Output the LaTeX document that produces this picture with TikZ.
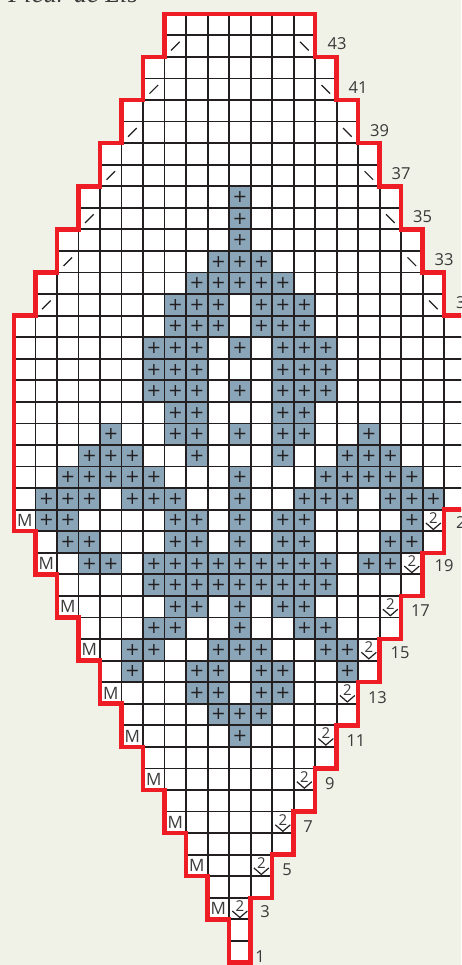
\documentclass[tikz,border=0pt]{standalone}
\usepackage{fontspec}
\setmainfont{Open Sans}
\newfontfamily\plusfont{DejaVu Sans}
\newfontfamily\titlefont{Liberation Serif}
\definecolor{paper}{HTML}{F0F1E7}
\definecolor{ink}{HTML}{231F20}
\definecolor{txt}{HTML}{3A3A3A}
\definecolor{steel}{HTML}{8AA5B8}
\definecolor{edge}{HTML}{EE1C25}
\tikzset{
  x=21.5pt,y=-21.56pt,
  cellbox/.style={draw=ink,line width=1.8pt,fill=white},
  blue cell/.style={draw=ink,line width=1.8pt,fill=steel},
  plussym/.style={inner sep=0pt,font=\plusfont\fontsize{17.5}{18}\selectfont,text=ink},
  mark M/.style={inner sep=0pt,font=\fontsize{17}{17}\selectfont,text=txt},
  mark two/.style={inner sep=0pt,font=\fontsize{15}{15}\selectfont,text=txt},
  row num/.style={inner sep=0pt,font=\fontsize{16.5}{17}\selectfont,text=txt},
  thin mark/.style={draw=ink,line width=1.2pt},
  outline/.style={draw=edge,line width=4.5pt,miter limit=10,join=miter},
}
\begin{document}
\begin{tikzpicture}
\path[fill=paper,use as bounding box] (-229.1pt,13.8pt) rectangle (231.9pt,-951.2pt);
\clip (-229.1pt,13.8pt) rectangle (231.9pt,-951.2pt);
\node[anchor=base west,inner sep=0pt,text=txt,font=\titlefont\itshape\fontsize{26.5}{26.5}\selectfont] (title) at (-221pt,10.8pt) {Fleur de Lis};
% cells
\foreach \k/\l/\r in {0/-3/3,1/-3/3,2/-4/4,3/-4/4,4/-5/5,5/-5/5,6/-6/6,7/-6/6,8/-7/7,9/-7/7,
  10/-8/8,11/-8/8,12/-9/9,13/-9/9,14/-10/10,15/-10/10,16/-10/10,17/-10/10,18/-10/10,19/-10/10,
  20/-10/10,21/-10/10,22/-10/10,23/-10/9,24/-9/9,25/-9/8,26/-8/8,27/-8/7,28/-7/7,29/-7/6,
  30/-6/6,31/-6/5,32/-5/5,33/-5/4,34/-4/4,35/-4/3,36/-3/3,37/-3/2,38/-2/2,39/-2/1,40/-1/1,
  41/-1/0,42/0/0,43/0/0}{
  \foreach \j in {\l,...,\r}{\draw[cellbox] (\j,\k) rectangle (\j+1,\k+1);}
}
% shaded stitches
\foreach \k/\cols in {8/{0},9/{0},10/{0},11/{-1,0,1},12/{-2,-1,0,1,2},13/{-3,-2,-1,1,2,3},14/{-3,-2,-1,1,2,3},
  15/{-4,-3,-2,0,2,3,4},16/{-4,-3,-2,2,3,4},17/{-4,-3,-2,0,2,3,4},18/{-3,-2,2,3},
  19/{-6,-3,-2,0,2,3,6},20/{-7,-6,-5,-2,2,5,6,7},21/{-8,-7,-6,-5,-4,0,4,5,6,7,8},
  22/{-9,-8,-7,-5,-4,-3,0,3,4,5,7,8,9},23/{-9,-8,-3,-2,0,2,3,8},24/{-8,-7,-3,-2,0,2,3,7,8},
  25/{-7,-6,-4,-3,-2,-1,0,1,2,3,4,6,7},26/{-4,-3,-2,-1,0,1,2,3,4},27/{-3,-2,0,2,3},
  28/{-4,-3,0,3,4},29/{-5,-4,-1,0,1,4,5},30/{-5,-2,-1,1,2,5},31/{-2,-1,1,2},32/{-1,0,1},33/{0}}{
  \foreach \j in \cols {
    \draw[blue cell] (\j,\k) rectangle (\j+1,\k+1);
    \node[plussym] (p\k c\j) at (\j+.5,\k+.5) {+};
  }
}
% decreases at the upper edges
\foreach \k/\l/\r in {1/-3/3,3/-4/4,5/-5/5,7/-6/6,9/-7/7,11/-8/8,13/-9/9}{
  \draw[thin mark,shift={(\l+.5,\k+.5)}] (-4.3pt,-4.3pt) -- (4.3pt,4.3pt);
  \draw[thin mark,shift={(\r+.5,\k+.5)}] (-4.3pt,4.3pt) -- (4.3pt,-4.3pt);
}
% M and 2-over-v marks at the lower edges
\foreach \k/\l/\r in {23/-10/9,25/-9/8,27/-8/7,29/-7/6,31/-6/5,33/-5/4,35/-4/3,37/-3/2,39/-2/1,41/-1/0}{
  \node[mark M] (m\k) at (\l+.5,\k+.5) {M};
  \node[mark two] (t\k) at ([yshift=2.5pt]\r+.5,\k+.5) {2};
  \draw[thin mark,shift={(\r+.5,\k+.5)}] (-7.5pt,-2.5pt) -- (0pt,-9pt) -- (7.5pt,-2.5pt);
}
% outline
\draw[outline] (-3,0) -- (4,0) -- (4,2) -- (5,2) -- (5,4) -- (6,4) -- (6,6) -- (7,6) -- (7,8) -- (8,8) -- (8,10) -- (9,10) -- (9,12) -- (10,12) -- (10,14) -- (11,14) -- (11,23) -- (10,23) -- (10,25) -- (9,25) -- (9,27) -- (8,27) -- (8,29) -- (7,29) -- (7,31) -- (6,31) -- (6,33) -- (5,33) -- (5,35) -- (4,35) -- (4,37) -- (3,37) -- (3,39) -- (2,39) -- (2,41) -- (1,41) -- (1,44) -- (0,44) -- (0,42) -- (-1,42) -- (-1,40) -- (-2,40) -- (-2,38) -- (-3,38) -- (-3,36) -- (-4,36) -- (-4,34) -- (-5,34) -- (-5,32) -- (-6,32) -- (-6,30) -- (-7,30) -- (-7,28) -- (-8,28) -- (-8,26) -- (-9,26) -- (-9,24) -- (-10,24) -- (-10,14) -- (-9,14) -- (-9,12) -- (-8,12) -- (-8,10) -- (-7,10) -- (-7,8) -- (-6,8) -- (-6,6) -- (-5,6) -- (-5,4) -- (-4,4) -- (-4,2) -- (-3,2) -- cycle;
% row numbers
\foreach \n/\x/\y in {43/5.02/1.4,41/6/3.4,39/7/5.4,37/8/7.4,35/9/9.4,33/10/11.4,31/11/13.4,
  21/11/23.6,19/10/25.6,17/8.9/27.66,15/7.95/29.65,13/6.9/31.7,11/5.9/33.7,9/4.69/35.7,7/3.67/37.7,5/2.7/39.7,3/1.67/41.66,1/1.44/43.75}{
  \node[row num] (n\n) at (\x,\y) {\n};
}
\end{tikzpicture}
\end{document}
